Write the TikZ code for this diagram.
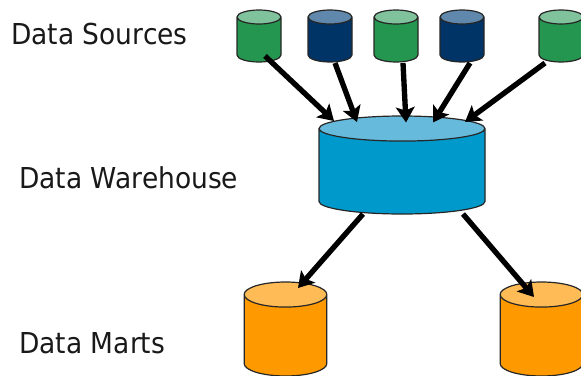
\documentclass[tikz,border=0pt]{standalone}
\usepackage{fontspec}
\setmainfont[FakeStretch=0.92]{DejaVu Sans}
\usetikzlibrary{shapes.geometric,arrows.meta}
\definecolor{srcgreen}{HTML}{25964F}
\definecolor{srcgreentop}{HTML}{7FC29B}
\definecolor{srcnavy}{HTML}{003366}
\definecolor{srcnavytop}{HTML}{6088AC}
\definecolor{dwblue}{HTML}{0099CC}
\definecolor{dwbluetop}{HTML}{66BBDD}
\definecolor{martorange}{HTML}{FF9900}
\definecolor{martorangetop}{HTML}{FFBB55}
\tikzset{
    db/.style={cylinder,shape border rotate=90,shape aspect=1,inner ysep=0pt,draw=black!85,line width=0.9pt,outer sep=0pt,anchor=shape center,cylinder uses custom fill},
    dbgreen/.style={db,inner xsep=5.25pt,minimum width=33pt,minimum height=39pt,cylinder body fill=srcgreen,cylinder end fill=srcgreentop},
    dbnavy/.style={db,inner xsep=5.25pt,minimum width=33pt,minimum height=39pt,cylinder body fill=srcnavy,cylinder end fill=srcnavytop},
    dbbig/.style={db,inner xsep=9.4pt,minimum width=124.5pt,minimum height=73.5pt,cylinder body fill=dwblue,cylinder end fill=dwbluetop},
    dbmart/.style={db,inner xsep=9.4pt,minimum width=62pt,minimum height=70.5pt,cylinder body fill=martorange,cylinder end fill=martorangetop},
    flow/.style={-{Stealth[length=11.5pt,width=14pt,inset=2.5pt]},line width=4pt,black},
    tier/.style={font=\fontsize{21.6pt}{25pt}\selectfont,anchor=base west,inner sep=0pt,text=black!90}
}
\begin{document}
\begin{tikzpicture}[x=0.75pt,y=-0.75pt]
        \useasboundingbox(0,0)rectangle(581,375);
        \node[tier](lblsrc)at(11,44){Data Sources};
        \node[tier](lbldw)at(19,188){Data Warehouse};
        \node[tier](lblmart)at(19,353){Data Marts};
        \node[dbgreen](src1)at(259,36){};
        \node[dbnavy](src2)at(330,36){};
        \node[dbgreen](src3)at(396,36){};
        \node[dbnavy](src4)at(462,36){};
        \node[dbgreen](src5)at(561,36){};
        \node[dbbig](dw)at(402,165){};
        \node[dbmart](mart1)at(285.5,329){};
        \node[dbmart](mart2)at(541.5,329){};
        \draw[flow]([shift={(6,20)}]src1.shape center)--([shift={(-68,-44)}]dw.shape center);
        \draw[flow]([shift={(5,27)}]src2.shape center)--([shift={(-45,-43)}]dw.shape center);
        \draw[flow]([shift={(7,27)}]src3.shape center)--([shift={(4,-42.5)}]dw.shape center);
        \draw[flow]([shift={(8,27)}]src4.shape center)--([shift={(31,-42.5)}]dw.shape center);
        \draw[flow]([shift={(-16,27)}]src5.shape center)--([shift={(63,-43)}]dw.shape center);
        \draw[flow]([shift={(-39,49)}]dw.shape center)--([shift={(12.5,-41)}]mart1.shape center);
        \draw[flow]([shift={(61,49)}]dw.shape center)--([shift={(-7.5,-32)}]mart2.shape center);
    \end{tikzpicture}
\end{document}
